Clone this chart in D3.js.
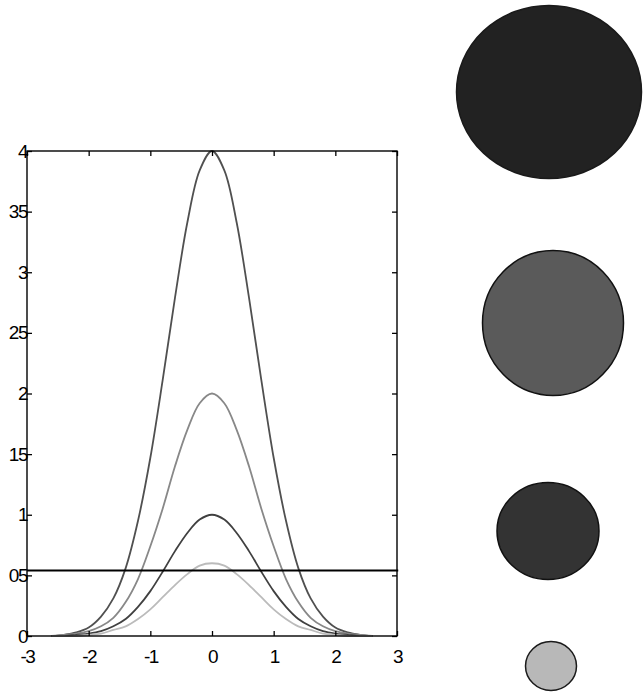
<!DOCTYPE html>
<html>
<head>
<meta charset="utf-8">
<script src="https://cdn.jsdelivr.net/npm/d3@7"></script>
<style>
  html, body { margin: 0; padding: 0; background: #fff; }
  svg { display: block; }
  text { font-family: "Liberation Sans", Arial, Helvetica, sans-serif; }
</style>
</head>
<body>
<svg id="chart" width="643" height="693"></svg>
<script>
// ---- data ----
const xValues = [-2.6,-2.4,-2.2,-2.0,-1.8,-1.6,-1.4,-1.2,-1.0,-0.8,-0.6,-0.4,-0.2,0,0.2,0.4,0.6,0.8,1.0,1.2,1.4,1.6,1.8,2.0,2.2,2.4,2.6];
const curve4 = [0.00,0.01,0.03,0.07,0.16,0.31,0.56,0.95,1.47,2.11,2.79,3.41,3.84,4.00,3.84,3.41,2.79,2.11,1.47,0.95,0.56,0.31,0.16,0.07,0.03,0.01,0.00];
const curve2 = [0.00,0.01,0.02,0.04,0.08,0.15,0.28,0.47,0.74,1.05,1.40,1.70,1.92,2.00,1.92,1.70,1.40,1.05,0.74,0.47,0.28,0.15,0.08,0.04,0.02,0.01,0.00];
const curve1 = [0.00,0.00,0.01,0.02,0.04,0.08,0.14,0.24,0.37,0.53,0.70,0.85,0.96,1.00,0.96,0.85,0.70,0.53,0.37,0.24,0.14,0.08,0.04,0.02,0.01,0.00,0.00];
const curve06 = [0.00,0.00,0.00,0.01,0.02,0.05,0.08,0.14,0.22,0.32,0.42,0.51,0.58,0.60,0.58,0.51,0.42,0.32,0.22,0.14,0.08,0.05,0.02,0.01,0.00,0.00,0.00];
const thresholdValue = 0.54;
const thresholdXRange = [-3, 3.02];
const xTickValues = [-3,-2,-1,0,1,2,3];
const xTickLabels = ["-3","-2","-1","0","1","2","3"];
const yTickValues = [0,0.5,1,1.5,2,2.5,3,3.5,4];
const yTickLabels = ["0","05","1","15","2","25","3","35","4"];
const circleRadiiX = [92.5, 70.5, 51, 25.5];
const circleRadiiY = [86.5, 72.5, 48.5, 24.5];

// ---- layout / style ----
const plot = { left: 27, right: 397, top: 151, bottom: 636 };
const curveColors = ["#505050", "#888888", "#404040", "#bbbbbb"];
const circleCenters = [[549, 92], [553, 323], [548, 531], [551, 666]];
const circleFills = ["#222222", "#5a5a5a", "#333333", "#b8b8b8"];
const circleStrokes = ["#1a1a1a", "#111111", "#111111", "#1a1a1a"];

const svg = d3.select("#chart");
const x = d3.scaleLinear().domain([-3, 3]).range([plot.left, plot.right]);
const y = d3.scaleLinear().domain([0, 4]).range([plot.bottom, plot.top]);

// curves
const series = [curve4, curve2, curve1, curve06];
const line = d3.line()
  .x(d => x(d[0]))
  .y(d => y(d[1]))
  .curve(d3.curveCatmullRom.alpha(0.5));

series.forEach((vals, i) => {
  const pts = xValues.map((xv, j) => [xv, vals[j]]);
  svg.append("path")
    .attr("d", line(pts))
    .attr("fill", "none")
    .attr("stroke", curveColors[i])
    .attr("stroke-width", 1.8);
});

// axes
const fontSize = 19;
const yAxis = d3.axisLeft(y).tickValues(yTickValues)
  .tickFormat((d, i) => yTickLabels[i]).tickSize(-5).tickPadding(0);
const xAxis = d3.axisBottom(x).tickValues(xTickValues)
  .tickFormat((d, i) => xTickLabels[i]).tickSize(-5).tickPadding(14);
const yAxisR = d3.axisRight(y).tickValues(yTickValues).tickFormat("").tickSize(-5);
const xAxisT = d3.axisTop(x).tickValues(xTickValues).tickFormat("").tickSize(-5);

function styleAxis(g) {
  g.select(".domain").remove();
  g.selectAll(".tick line").attr("stroke", "#000").attr("stroke-width", 1.3);
  g.selectAll(".tick text").attr("fill", "#000")
    .style("font-size", fontSize + "px").style("letter-spacing", "-1.5px")
    .style("font-family", '"Liberation Sans", Arial, sans-serif');
}

svg.append("g").attr("transform", `translate(${plot.left},0)`).call(yAxis).call(styleAxis);
svg.append("g").attr("transform", `translate(0,${plot.bottom})`).call(xAxis).call(styleAxis);
svg.append("g").attr("transform", `translate(${plot.right},0)`).call(yAxisR).call(styleAxis);
svg.append("g").attr("transform", `translate(0,${plot.top})`).call(xAxisT).call(styleAxis);

// frame
svg.append("rect")
  .attr("x", x(-3)).attr("y", y(4))
  .attr("width", x(3) - x(-3)).attr("height", y(0) - y(4))
  .attr("fill", "none").attr("stroke", "#000").attr("stroke-width", 1.4);

// threshold line
svg.append("line")
  .attr("x1", x(thresholdXRange[0])).attr("x2", x(thresholdXRange[1]))
  .attr("y1", y(thresholdValue)).attr("y2", y(thresholdValue))
  .attr("stroke", "#000").attr("stroke-width", 2);

// circles
svg.append("g").selectAll("ellipse")
  .data(circleRadiiX)
  .join("ellipse")
  .attr("cx", (d, i) => circleCenters[i][0])
  .attr("cy", (d, i) => circleCenters[i][1])
  .attr("rx", d => d)
  .attr("ry", (d, i) => circleRadiiY[i])
  .attr("fill", (d, i) => circleFills[i])
  .attr("stroke", (d, i) => circleStrokes[i])
  .attr("stroke-width", 1.5);
</script>
</body>
</html>
